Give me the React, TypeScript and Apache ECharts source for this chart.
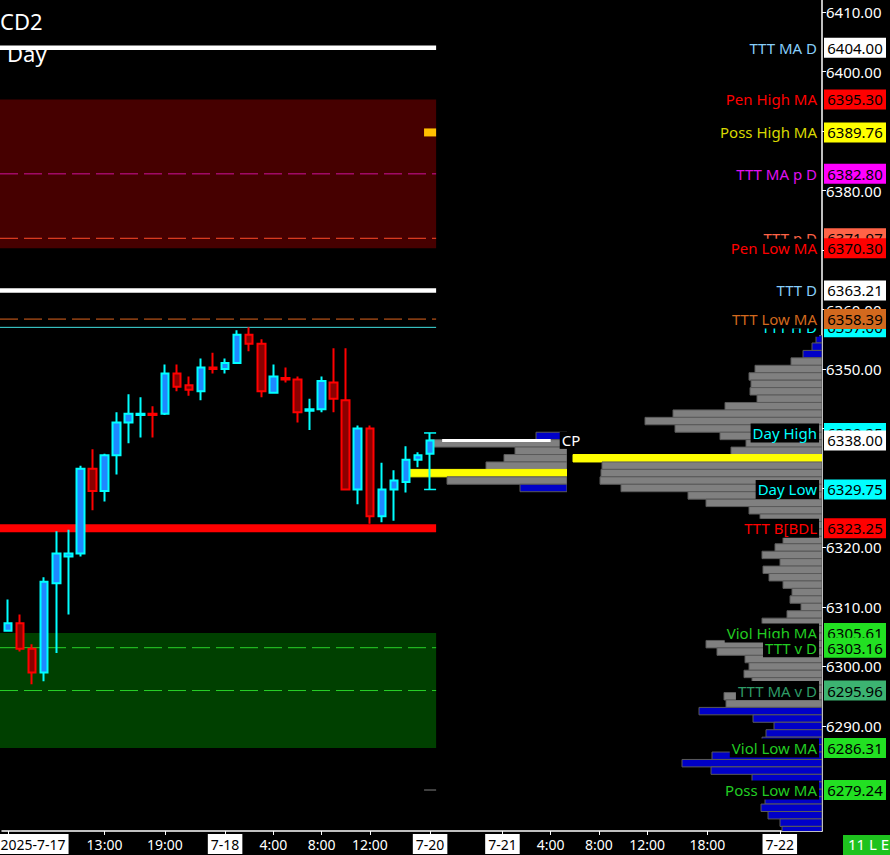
import React, { useEffect, useRef } from "react";
import * as echarts from "echarts";

const FONT = '"Noto Sans", "DejaVu Sans", sans-serif';

// ---------- X axis: hourly slots ----------
const sessions: [string, number, number][] = [
  ["7-17", 5, 16],
  ["7-17", 18, 23],
  ["7-18", 0, 16],
  ["7-20", 18, 23],
  ["7-21", 0, 16],
  ["7-21", 18, 23],
  ["7-22", 0, 3],
];
const hours: string[] = [];
sessions.forEach(([d, a, b]) => {
  for (let h = a; h <= b; h++) hours.push(`${d} ${h}:00`);
});

const xTickIndex = [0, 8, 13, 18, 22, 26, 30, 35, 41, 45, 49, 53, 58, 64];
const xTickText = ["2025-7-17", "13:00", "19:00", "7-18", "4:00", "8:00", "12:00", "7-20", "7-21", "4:00", "8:00", "12:00", "18:00", "7-22"];

// ---------- Candles (hourly) ----------
const opens = [6306.0, 6307.25, 6303.0, 6299.0, 6314.0, 6318.5, 6319.0, 6333.25, 6329.5, 6335.5, 6341.0, 6342.25, 6342.5, 6342.5, 6349.25, 6347.25, 6346.25, 6350.25, 6350.0, 6351.0, 6355.75, 6354.25, 6346.0, 6348.5, 6348.25, 6343.0, 6343.25, 6347.75, 6344.75, 6329.75, 6340.0, 6325.25, 6329.75, 6331.0, 6334.75, 6335.75];
const closes = [6307.25, 6303.0, 6299.0, 6314.25, 6319.0, 6319.0, 6333.25, 6329.5, 6335.5, 6341.0, 6342.5, 6342.5, 6342.25, 6349.25, 6347.0, 6346.5, 6350.25, 6350.0, 6351.0, 6355.75, 6354.25, 6346.25, 6348.75, 6348.25, 6342.75, 6343.25, 6348.0, 6345.0, 6329.75, 6340.0, 6325.25, 6329.75, 6331.25, 6334.75, 6335.5, 6338.0];
const lows = [6306.0, 6302.5, 6297.0, 6297.5, 6302.25, 6308.75, 6318.5, 6326.25, 6327.75, 6332.25, 6337.5, 6338.5, 6338.5, 6342.25, 6346.25, 6345.5, 6344.75, 6349.25, 6349.25, 6351.0, 6353.0, 6345.25, 6346.0, 6347.75, 6341.0, 6339.75, 6342.75, 6342.75, 6329.75, 6327.25, 6324.0, 6324.25, 6324.5, 6329.25, 6333.5, 6329.75];
const highs = [6311.25, 6308.75, 6303.75, 6315.0, 6322.75, 6323.0, 6333.75, 6336.5, 6335.75, 6342.75, 6345.75, 6345.25, 6343.75, 6350.75, 6350.75, 6348.75, 6351.75, 6352.75, 6351.75, 6356.5, 6357.0, 6355.0, 6350.75, 6350.25, 6348.75, 6345.0, 6348.75, 6353.5, 6353.5, 6340.5, 6340.5, 6334.25, 6333.0, 6337.0, 6336.0, 6339.25];
const LAST = opens.length - 1;

// ---------- Price axis ----------
const Y_MIN = 6272.35;
const Y_MAX = 6412.02;
const yTickValues = [6290, 6300, 6310, 6320, 6330, 6340, 6350, 6360, 6370, 6380, 6390, 6400, 6410];

// ---------- Right side price tags ----------
const tagNames = ["TTT MA D", "Pen High MA", "Poss High MA", "TTT MA p D", "TTT p D", "Pen Low MA", "TTT D", "TTT H D", "TTT Low MA", "Day High", "", "Day Low", "TTT B[BDL", "Viol High MA", "TTT v D", "TTT MA v D", "Viol Low MA", "Poss Low MA"];
const tagValues = [6404.0, 6395.3, 6389.76, 6382.8, 6371.97, 6370.3, 6363.21, 6357.0, 6358.39, 6339.25, 6338.0, 6329.75, 6323.25, 6305.61, 6303.16, 6295.96, 6286.31, 6279.24];
const tagBoxColors = ["#ffffff", "#ff0000", "#ffff00", "#ff00ff", "#ff6347", "#ff0000", "#ffffff", "#00ffff", "#d2691e", "#00ffff", "#ffffff", "#00ffff", "#ff0000", "#22e022", "#22e022", "#3cb371", "#22e022", "#22e022"];
const tagNameColors = ["#87cefa", "#ff0000", "#d8d800", "#e010f0", "#ff6347", "#ff0000", "#87cefa", "#00ffff", "#d2691e", "#00ffff", "#ffffff", "#00ffff", "#ff0000", "#22cc22", "#22cc22", "#2e9b67", "#22cc22", "#22cc22"];

// ---------- Levels drawn in the chart ----------
const zoneTop = [6395.3, 6305.61];
const zoneBottom = [6370.3, 6286.31];
const zoneColors = ["rgba(139,0,0,0.5)", "rgba(0,128,0,0.5)"];
const solidLevels = [6404.0, 6363.21, 6357.0, 6323.25];
const solidColors = ["#ffffff", "#ffffff", "#40e0e0", "#ff0000"];
const solidWidths = [4.5, 4.5, 1, 8];
const dashedLevels = [6382.8, 6371.97, 6358.39, 6303.16, 6295.96];
const dashedColors = ["#d0109a", "#ff4a2a", "#e0641e", "#28d028", "#28d028"];
const lastBarMarks = [6389.76, 6279.24];
const lastBarMarkColors = ["#ffc000", "#808080"];
const lastBarMarkHeights = [8, 1];
const currentPrice = 6338.0;

// ---------- Volume profiles ----------
const ROW = 1.25;
const bigTop = 6355.0;
const bigVol = [6, 10, 19, 31, 67, 73, 71, 72, 65, 97, 149, 177, 147, 102, 76, 91, 249, 220, 221, 222, 201, 134, 116, 73, 62, 50, 42, 39, 47, 60, 42, 59, 53, 39, 30, 32, 21, 35, 60, 48, 40, 116, 105, 77, 73, 78, 70, 75, 98, 96, 123, 69, 48, 56, 60, 60, 110, 140, 111, 70, 65, 60, 57, 61, 54, 42, 40];
const bigPOC = 6335.0;
const bigVAH = 6351.25;
const bigVAL = 6293.75;

const smallTop = 6338.75;
const smallVol = [31, 137, 52, 63, 81, 160, 120, 47];
const smallPOC = 6332.5;
const smallVAH = 6337.5;
const smallVAL = 6331.25;

function profileSeries(top: number, vols: number[], poc: number, vah: number, val: number, xIdx: number, yIdx: number) {
  const data = vols.map((v, i) => [top - i * ROW, v]);
  return {
    type: "custom",
    xAxisIndex: xIdx,
    yAxisIndex: yIdx,
    silent: true,
    clip: true,
    encode: { x: 1, y: 0 },
    data,
    renderItem: (params: any, api: any) => {
      const price = api.value(0);
      const vol = api.value(1);
      const p1 = api.coord([vol, price + ROW / 2]);
      const p2 = api.coord([0, price - ROW / 2]);
      let fill = "#808080";
      let stroke = "#5a5a5a";
      if (price === poc) {
        fill = "#ffff00";
        stroke = "#ffff00";
      } else if (price > vah || price < val) {
        fill = "#0000c8";
      }
      return {
        type: "rect",
        shape: { x: p1[0], y: p1[1], width: p2[0] - p1[0], height: p2[1] - p1[1] },
        style: { fill, stroke, lineWidth: 1 },
      };
    },
  };
}

const tickSet = new Set(xTickIndex);

const option: any = {
  backgroundColor: "#000000",
  animation: false,
  grid: [
    { left: 2, right: 68, top: 0, bottom: 24, outerBoundsMode: "none" },
    { left: 400, right: 323, top: 0, bottom: 24, outerBoundsMode: "none" },
  ],
  xAxis: [
    {
      type: "category",
      gridIndex: 0,
      data: hours,
      boundaryGap: true,
      axisLine: { show: true, lineStyle: { color: "#ffffff", width: 1.5 } },
      axisTick: { show: true, alignWithLabel: true, length: 4, interval: (i: number) => tickSet.has(i), lineStyle: { color: "#ffffff" } },
      splitLine: { show: false },
      axisLabel: {
        interval: (i: number) => tickSet.has(i),
        margin: 3,
        color: "#ffffff",
        fontSize: 14,
        fontFamily: FONT,
        formatter: (_v: string, idx: number) => {
          const k = xTickIndex.indexOf(idx);
          if (k < 0) return "";
          const s = xTickText[k];
          if (idx === 0) return `{sp|.}{d|${s}}`;
          return s.includes("-") ? `{d|${s}}` : `{t|${s}}`;
        },
        rich: {
          d: { backgroundColor: "#ffffff", color: "#000000", padding: [3, 3, 3, 3], fontSize: 14, fontFamily: FONT },
          t: { color: "#ffffff", padding: [3, 3, 3, 3], fontSize: 14, fontFamily: FONT },
          sp: { width: 50, color: "rgba(0,0,0,0)", fontSize: 14, fontFamily: FONT },
        },
      },
    },
    { type: "value", gridIndex: 0, inverse: true, min: 0, max: 820, show: false },
    { type: "value", gridIndex: 1, inverse: true, min: 0, max: 167, show: false },
  ],
  yAxis: [
    {
      type: "value",
      gridIndex: 0,
      position: "right",
      min: Y_MIN,
      max: Y_MAX,
      axisLine: { show: true, lineStyle: { color: "#ffffff", width: 1.5 } },
      axisTick: { show: true, length: 4, lineStyle: { color: "#ffffff" }, customValues: yTickValues },
      splitLine: { show: false },
      axisLabel: {
        color: "#ffffff",
        fontSize: 15,
        fontFamily: FONT,
        margin: 4,
        customValues: yTickValues,
        formatter: (v: number) => v.toFixed(2),
      },
    },
    { type: "value", gridIndex: 1, min: Y_MIN, max: Y_MAX, show: false },
  ],
  graphic: [
    { type: "text", left: 0, top: 10, style: { text: "CD2", fill: "#ffffff", fontSize: 22, fontFamily: FONT } },
    { type: "text", left: 7, top: 42, style: { text: "Day", fill: "#ffffff", fontSize: 22, fontFamily: FONT } },
    { type: "rect", left: 843, top: 835, shape: { width: 47, height: 20 }, style: { fill: "#1ec31e" } },
    { type: "text", left: 848, top: 836, style: { text: "11 L E", fill: "#ffffff", fontSize: 15, fontFamily: FONT } },
  ],
  series: [
    profileSeries(bigTop, bigVol, bigPOC, bigVAH, bigVAL, 1, 0),
    profileSeries(smallTop, smallVol, smallPOC, smallVAH, smallVAL, 2, 1),
    {
      type: "candlestick",
      xAxisIndex: 0,
      yAxisIndex: 0,
      barWidth: 8,
      silent: true,
      data: opens.map((o, i) => [o, closes[i], lows[i], highs[i]]),
      itemStyle: { color: "#1e88ff", color0: "#8b0000", borderColor: "#00ffff", borderColor0: "#ff0000", borderWidth: 2 },
    },
    {
      type: "custom",
      xAxisIndex: 0,
      yAxisIndex: 0,
      silent: true,
      data: [[LAST, highs[LAST], lows[LAST]]],
      encode: { x: 0, y: [1, 2] },
      renderItem: (_p: any, api: any) => {
        const bw = api.size([1, 0])[0];
        const hi = api.coord([api.value(0), api.value(1)]);
        const lo = api.coord([api.value(0), api.value(2)]);
        return {
          type: "group",
          children: [
            { type: "line", shape: { x1: hi[0] - bw / 2, y1: hi[1], x2: hi[0] + bw / 2, y2: hi[1] }, style: { stroke: "#00ffff", lineWidth: 1.5 } },
            { type: "line", shape: { x1: lo[0] - bw / 2, y1: lo[1], x2: lo[0] + bw / 2, y2: lo[1] }, style: { stroke: "#00ffff", lineWidth: 1.5 } },
          ],
        };
      },
    },
    {
      type: "custom",
      xAxisIndex: 0,
      yAxisIndex: 0,
      silent: true,
      clip: false,
      data: [[0, currentPrice]],
      renderItem: (params: any, api: any) => {
        const cs = params.coordSys;
        const bw = api.size([1, 0])[0];
        const xL = cs.x - 2;
        const xR = api.coord([LAST, currentPrice])[0] + bw / 2;
        const y = (v: number) => api.coord([0, v])[1];
        const children: any[] = [];
        zoneTop.forEach((t, i) => {
          children.push({ type: "rect", shape: { x: xL, y: y(t), width: xR - xL, height: y(zoneBottom[i]) - y(t) }, style: { fill: zoneColors[i] } });
        });
        dashedLevels.forEach((v, i) => {
          children.push({ type: "line", shape: { x1: xL, y1: y(v), x2: xR, y2: y(v) }, style: { stroke: dashedColors[i], lineWidth: 1, lineDash: [18, 6] } });
        });
        solidLevels.forEach((v, i) => {
          children.push({ type: "line", shape: { x1: xL, y1: y(v), x2: xR, y2: y(v) }, style: { stroke: solidColors[i], lineWidth: solidWidths[i] } });
        });
        lastBarMarks.forEach((v, i) => {
          children.push({ type: "rect", shape: { x: xR - bw, y: y(v) - lastBarMarkHeights[i] / 2, width: bw, height: lastBarMarkHeights[i] }, style: { fill: lastBarMarkColors[i] } });
        });
        const cpX1 = api.coord([LAST + 1, currentPrice])[0];
        const cpX2 = api.coord([LAST + 10, currentPrice])[0];
        const cpY = y(currentPrice);
        children.push({ type: "line", shape: { x1: cpX1, y1: cpY, x2: cpX2, y2: cpY }, style: { stroke: "#ffffff", lineWidth: 3 } });
        children.push({
          type: "text",
          x: api.coord([LAST + 11, currentPrice])[0] - bw / 2 + 3,
          y: cpY,
          style: { text: "CP", fill: "#ffffff", fontSize: 15, fontFamily: FONT, align: "left", verticalAlign: "middle", backgroundColor: "#000000", padding: [1, 2] },
        });
        return { type: "group", children };
      },
    },
    {
      type: "custom",
      xAxisIndex: 0,
      yAxisIndex: 0,
      silent: true,
      clip: false,
      data: [[0, tagValues[0]]],
      renderItem: (params: any, api: any) => {
        const cs = params.coordSys;
        const right = cs.x + cs.width;
        const children: any[] = [];
        tagValues.forEach((v, i) => {
          const yy = api.coord([0, v])[1];
          if (tagNames[i]) {
            children.push({
              type: "text",
              x: right - 3,
              y: yy,
              style: { text: tagNames[i], fill: tagNameColors[i], fontSize: 15, fontFamily: FONT, align: "right", verticalAlign: "middle", backgroundColor: "#000000", padding: [2, 2] },
            });
          }
          children.push({ type: "rect", shape: { x: right + 2, y: yy - 10, width: 62, height: 20 }, style: { fill: tagBoxColors[i] } });
          children.push({
            type: "text",
            x: right + 33,
            y: yy,
            style: { text: v.toFixed(2), fill: "#000000", fontSize: 15, fontFamily: FONT, align: "center", verticalAlign: "middle" },
          });
        });
        return { type: "group", children };
      },
    },
  ],
};

export default function App() {
  const ref = useRef<HTMLDivElement>(null);
  useEffect(() => {
    if (!ref.current) return;
    const chart = echarts.init(ref.current, null, { renderer: "svg" });
    chart.setOption(option);
    return () => chart.dispose();
  }, []);
  return <div ref={ref} style={{ position: "fixed", left: 0, top: 0, width: 890, height: 855, background: "#000" }} />;
}
